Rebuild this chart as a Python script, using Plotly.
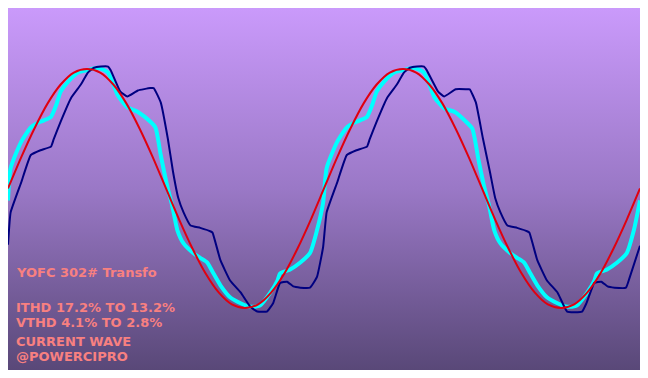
import plotly.graph_objects as go

# ---- data (phase in electrical degrees, values in % of nominal peak) ----
red_x = list(range(0, 721, 15))
red_y = [0, 26, 50, 71, 87, 97, 100, 97, 87, 71, 50, 26,
         0, -26, -50, -71, -87, -97, -100, -97, -87, -71, -50, -26,
         0, 26, 50, 71, 87, 97, 100, 97, 87, 71, 50, 26,
         0, -26, -50, -71, -87, -97, -100, -97, -87, -71, -50, -26, 0]

cyan_x = [0, 3, 15, 26, 34, 41, 49, 55, 60, 68, 80, 91, 102, 114, 125, 136, 148, 162, 168, 174,
          182, 187, 193, 200, 211, 219, 227, 234, 242, 253, 265, 276, 287, 299, 307, 310, 321, 333, 344, 352,
          359, 363, 375, 386, 394, 401, 409, 415, 420, 428, 440, 451, 462, 474, 486, 497, 509, 523, 529, 536,
          543, 548, 554, 561, 572, 580, 588, 595, 603, 614, 626, 637, 648, 660, 668, 671, 682, 694, 705, 713, 720]
cyan_y = [-10, 17, 39, 51, 55, 57, 60, 70, 81, 89, 97, 99, 101, 97, 78, 68, 64, 56, 51, 28,
          0, -14, -35, -46, -54, -58, -62, -71, -81, -91, -96, -99, -98, -87, -77, -71, -68, -62, -54, -35,
          -12, 17, 39, 51, 55, 57, 60, 70, 81, 89, 97, 99, 101, 97, 76, 67, 64, 55, 50, 24,
          0, -14, -35, -46, -54, -58, -62, -71, -81, -91, -96, -99, -98, -87, -77, -71, -68, -62, -54, -35, -10]

navy_x = [0, 3, 15, 26, 37, 49, 52, 60, 72, 83, 91, 98, 106, 114, 117, 128, 136, 148, 162, 166,
          174, 182, 188, 194, 200, 208, 219, 231, 233, 242, 253, 265, 276, 284, 295, 302, 310, 318, 325, 333,
          344, 352, 359, 363, 375, 386, 397, 409, 412, 420, 432, 443, 451, 458, 466, 474, 477, 490, 497, 510,
          523, 526, 533, 541, 549, 555, 561, 569, 580, 592, 594, 603, 614, 626, 637, 654, 659, 668, 676, 683,
          691, 704, 708, 720]
navy_y = [-47, -20, 5, 28, 32, 35, 41, 56, 76, 87, 97, 101, 102, 102, 99, 81, 77, 82, 84, 84,
          72, 42, 14, -8, -20, -31, -33, -36, -37, -60, -77, -87, -99, -103, -103, -96, -79, -78, -82, -83,
          -83, -74, -49, -20, 5, 28, 32, 35, 41, 56, 76, 87, 97, 101, 102, 102, 99, 81, 77, 83,
          83, 83, 72, 42, 14, -8, -20, -31, -33, -36, -37, -60, -77, -87, -103, -103, -96, -79, -78, -82,
          -83, -83, -75, -48]

note_lines = ["YOFC 302# Transfo", "ITHD 17.2% TO 13.2%", "VTHD 4.1% TO 2.8%",
              "CURRENT WAVE", "@POWERCIPRO"]
note_ypos = [0.269, 0.174, 0.130, 0.080, 0.038]

Y_MIN, Y_MAX = -151.9, 151.0
X_MIN, X_MAX = 0, 720

fig = go.Figure()

# gradient background
fig.add_trace(go.Scatter(
    x=[X_MIN, X_MAX, X_MAX, X_MIN, X_MIN],
    y=[Y_MIN, Y_MIN, Y_MAX, Y_MAX, Y_MIN],
    mode="lines", line=dict(width=0), fill="toself",
    fillgradient=dict(type="vertical",
                      colorscale=[[0, "#594878"], [0.5, "#9A78C6"], [1, "#CA9AFB"]]),
    hoverinfo="skip", showlegend=False))

fig.add_trace(go.Scatter(x=cyan_x, y=cyan_y, mode="lines",
                         line=dict(color="#00FFFF", width=4, shape="spline", smoothing=0.6),
                         showlegend=False))
fig.add_trace(go.Scatter(x=navy_x, y=navy_y, mode="lines",
                         line=dict(color="#000080", width=2, shape="spline", smoothing=0.35),
                         showlegend=False))
fig.add_trace(go.Scatter(x=red_x, y=red_y, mode="lines",
                         line=dict(color="#E00010", width=2, shape="spline", smoothing=0.8),
                         showlegend=False))

for txt, yp in zip(note_lines, note_ypos):
    fig.add_annotation(text=txt, xref="paper", yref="paper", x=0.0095, y=yp,
                       xanchor="left", yanchor="middle", showarrow=False,
                       font=dict(family="DejaVu Sans", size=13, color="#F88080", weight="bold"))

fig.update_xaxes(range=[X_MIN, X_MAX], showgrid=False, zeroline=False, showticklabels=False,
                 ticks="", showline=True, mirror=True, linecolor="#8C8496", linewidth=1)
fig.update_yaxes(range=[Y_MIN, Y_MAX], showgrid=False, zeroline=False, showticklabels=False,
                 ticks="", showline=True, mirror=True, linecolor="#8C8496", linewidth=1)

fig.update_layout(width=632, height=362,
                  margin=dict(l=0, r=0, t=0, b=0),
                  paper_bgcolor="white", plot_bgcolor="#9A78C6",
                  hovermode=False)

fig.write_html("out.html")
